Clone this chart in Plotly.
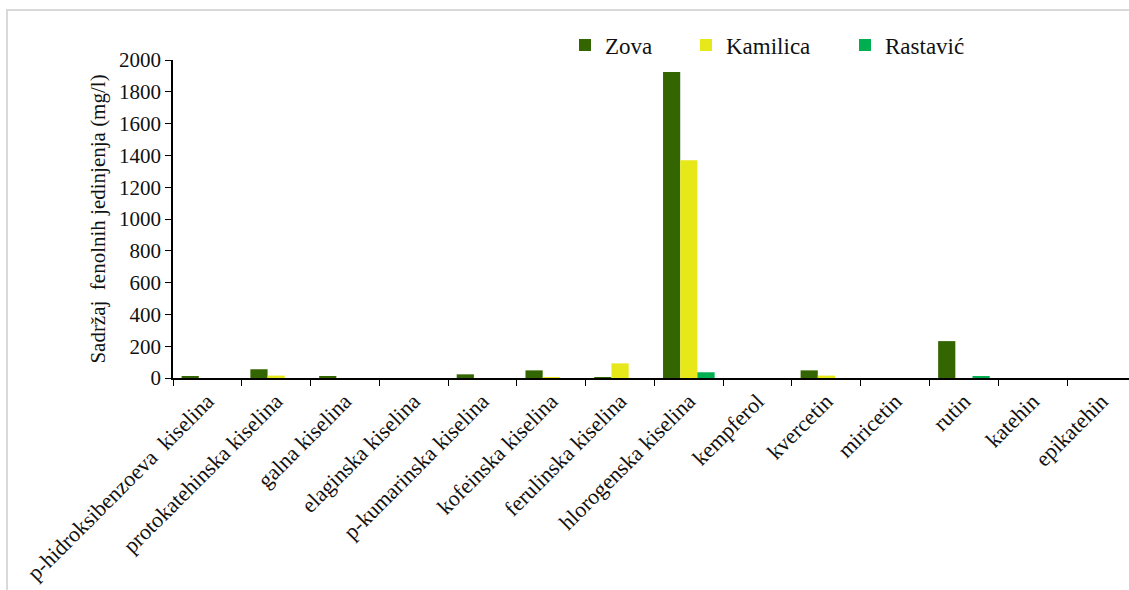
import plotly.graph_objects as go

# Phenolic compounds measured in each plant extract (mg/l)
compounds = [
    "p-hidroksibenzoeva  kiselina",
    "protokatehinska kiselina",
    "galna kiselina",
    "elaginska kiselina",
    "p-kumarinska kiselina",
    "kofeinska kiselina",
    "ferulinska kiselina",
    "hlorogenska kiselina",
    "kempferol",
    "kvercetin",
    "miricetin",
    "rutin",
    "katehin",
    "epikatehin",
]
zova = [8, 55, 8, 0, 23, 48, 5, 1925, 0, 48, 0, 232, 0, 0]
kamilica = [0, 15, 0, 0, 0, 5, 92, 1370, 0, 15, 0, 0, 0, 0]
rastavic = [0, 0, 0, 0, 0, 0, 0, 36, 0, 0, 0, 8, 0, 0]

y_ticks = list(range(0, 2001, 200))

W, H = 1129, 590
FONT = "Liberation Serif, Times New Roman, serif"

series = [
    ("Zova", zova, "#336600", "legend", 565),
    ("Kamilica", kamilica, "#E6E81A", "legend2", 686),
    ("Rastavić", rastavic, "#00B050", "legend3", 845),
]

fig = go.Figure()
for name, vals, color, leg, _ in series:
    fig.add_trace(go.Bar(
        x=compounds, y=vals, name=name,
        marker=dict(color=color, line=dict(width=0)),
        legend=leg,
    ))

legend_style = dict(
    orientation="h", xref="container", yref="container",
    xanchor="left", yanchor="middle", y=1 - 45 / H,
    font=dict(family=FONT, size=23, color="#111111"),
    bgcolor="rgba(0,0,0,0)", borderwidth=0,
)
layout_legends = {}
for name, _, _, leg, px in series:
    layout_legends[leg] = dict(legend_style, x=px / W)

plot_l, plot_r, plot_t, plot_b = 173, 1129, 60, 378
fig.update_layout(
    width=W, height=H,
    margin=dict(l=plot_l, r=W - plot_r, t=plot_t, b=H - plot_b, autoexpand=False),
    paper_bgcolor="white", plot_bgcolor="white",
    barmode="group", bargap=0.25, bargroupgap=0,
    font=dict(family=FONT, size=21, color="#111111"),
    showlegend=True,
    **layout_legends,
)

fig.update_xaxes(
    type="category", range=[-0.5, 13.4],
    tickson="boundaries", ticks="outside", ticklen=6, tickcolor="black",
    tickangle=-45, tickfont=dict(family=FONT, size=22, color="#111111"),
    showline=True, linecolor="black", linewidth=1.5,
    showgrid=False, zeroline=False,
)
fig.update_yaxes(
    range=[0, 2000], tickvals=y_ticks, ticktext=[str(v) for v in y_ticks],
    ticks="outside", ticklen=6, tickcolor="black",
    tickfont=dict(family=FONT, size=21, color="#111111"),
    showline=True, linecolor="black", linewidth=1.5,
    showgrid=False, zeroline=False,
    title=dict(text="Sadržaj  fenolnih jedinjenja (mg/l)",
               font=dict(family=FONT, size=21, color="#111111"), standoff=8),
)

# light outer frame around the whole chart
ph = plot_b - plot_t
pw = plot_r - plot_l
fig.add_shape(
    type="rect", xref="paper", yref="paper",
    x0=(7 - plot_l) / pw, x1=(W + 20 - plot_l) / pw,
    y0=(plot_b - (H + 20)) / ph, y1=(plot_b - 10) / ph,
    line=dict(color="#D9D9D9", width=2), fillcolor="rgba(0,0,0,0)",
    layer="below",
)

fig.write_html("out.html", config={"displayModeBar": False})
